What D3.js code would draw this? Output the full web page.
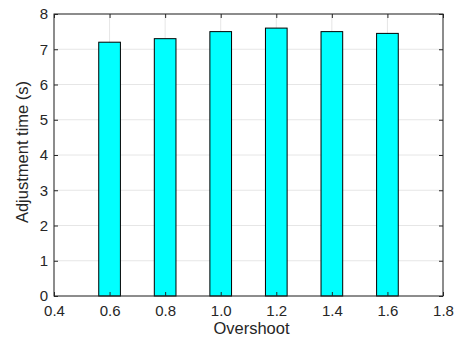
<!DOCTYPE html>
<html>
<head>
<meta charset="utf-8">
<script src="https://cdn.jsdelivr.net/npm/d3@7"></script>
<style>
  body { margin: 0; background: #fff; }
  svg text { font-family: "Liberation Sans", Arial, sans-serif; }
</style>
</head>
<body>
<div id="chart"></div>
<script>
const overshoot = [0.6, 0.8, 1.0, 1.2, 1.4, 1.6];
const adjustTime = [7.2, 7.3, 7.5, 7.6, 7.5, 7.45];
const xTicks = [0.4, 0.6, 0.8, 1.0, 1.2, 1.4, 1.6, 1.8];
const yTicks = [0, 1, 2, 3, 4, 5, 6, 7, 8];

const W = 454, H = 341;
const margin = { top: 14, right: 11, bottom: 45, left: 54 };
const width = W - margin.left - margin.right;
const height = H - margin.top - margin.bottom;
const axisColor = "#262626";

const svg = d3.select("#chart")
    .append("svg")
    .attr("width", W)
    .attr("height", H)
    .append("g")
    .attr("transform", `translate(${margin.left},${margin.top})`);

const x = d3.scaleLinear().domain([0.4, 1.8]).range([0, width]);
const y = d3.scaleLinear().domain([0, 8]).range([height, 0]);

// grid
svg.append("g")
    .selectAll("line")
    .data(yTicks)
    .enter()
    .append("line")
    .attr("x1", 0).attr("x2", width)
    .attr("y1", d => y(d)).attr("y2", d => y(d))
    .attr("stroke", "#e6e6e6");
svg.append("g")
    .selectAll("line")
    .data(xTicks)
    .enter()
    .append("line")
    .attr("y1", 0).attr("y2", height)
    .attr("x1", d => x(d)).attr("x2", d => x(d))
    .attr("stroke", "#e6e6e6");

// bars
const barW = x(0.6 + 0.078) - x(0.6);
svg.selectAll("mybar")
    .data(overshoot)
    .enter()
    .append("rect")
    .attr("x", (d) => x(d) - barW / 2)
    .attr("y", (d, i) => y(adjustTime[i]))
    .attr("width", barW)
    .attr("height", (d, i) => height - y(adjustTime[i]))
    .attr("fill", "#00ffff")
    .attr("stroke", "#000")
    .attr("stroke-width", 1);

// axes
const fmt = d => d.toFixed(1);
function styleAxis(g) {
    g.select(".domain").remove();
    g.selectAll(".tick line").attr("stroke", axisColor);
    g.selectAll(".tick text").attr("fill", axisColor).style("font-size", "15px");
}
svg.append("g")
    .attr("transform", `translate(0,${height})`)
    .call(d3.axisBottom(x).tickValues(xTicks).tickFormat(fmt).tickSizeInner(-4).tickSizeOuter(0).tickPadding(9))
    .call(styleAxis);
svg.append("g")
    .call(d3.axisTop(x).tickValues(xTicks).tickFormat("").tickSizeInner(-4).tickSizeOuter(0))
    .call(styleAxis);
svg.append("g")
    .call(d3.axisLeft(y).tickValues(yTicks).tickFormat(d3.format("d")).tickSizeInner(-4).tickSizeOuter(0).tickPadding(6))
    .call(styleAxis);
svg.append("g")
    .attr("transform", `translate(${width},0)`)
    .call(d3.axisRight(y).tickValues(yTicks).tickFormat("").tickSizeInner(-4).tickSizeOuter(0))
    .call(styleAxis);

// box
svg.append("rect")
    .attr("width", width)
    .attr("height", height)
    .attr("fill", "none")
    .attr("stroke", axisColor)
    .attr("stroke-width", 1);

svg.append("text")
    .attr("text-anchor", "middle")
    .attr("x", width / 2 + 3)
    .attr("y", height + 38)
    .style("font-size", "16.5px")
    .attr("fill", axisColor)
    .text("Overshoot");

svg.append("text")
    .attr("text-anchor", "middle")
    .attr("transform", "rotate(-90)")
    .attr("x", -height / 2 + 3)
    .attr("y", -margin.left + 28)
    .style("font-size", "16.5px")
    .attr("fill", axisColor)
    .text("Adjustment time (s)");
</script>
</body>
</html>
